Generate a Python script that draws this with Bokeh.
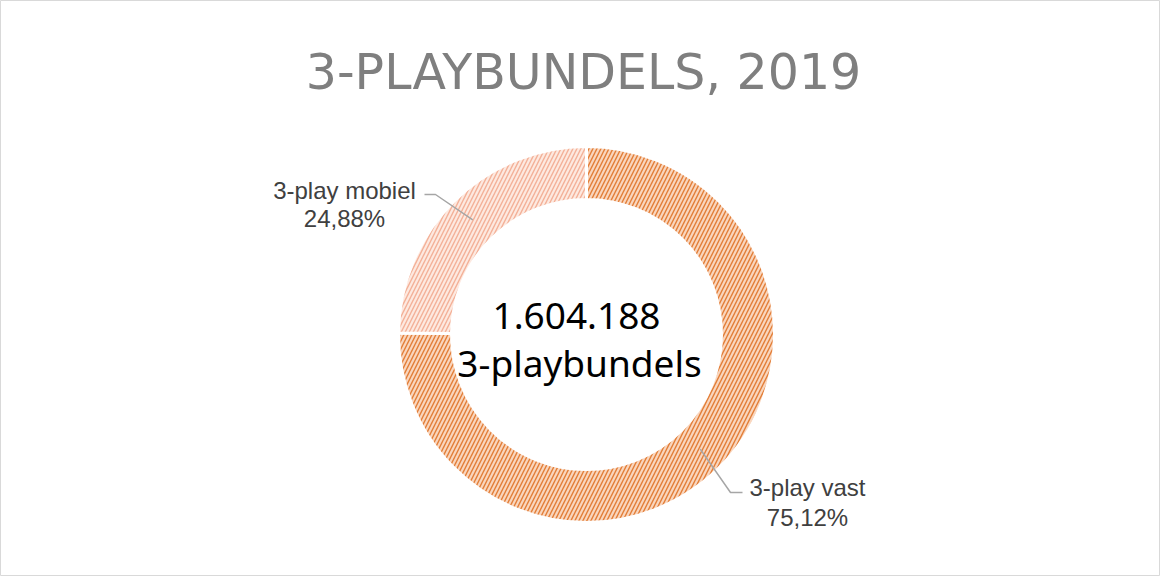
import math
from bokeh.plotting import figure
from bokeh.models import ColumnDataSource, Range1d, Label
from bokeh.core.properties import value
from bokeh.embed import file_html
from bokeh.resources import INLINE

# ---- data ----
title_text = "3-PLAYBUNDELS, 2019"
categories = ["3-play vast", "3-play mobiel"]
shares = [75.12, 24.88]
pct_labels = ["75,12%", "24,88%"]
total_label = "1.604.188"
total_caption = "3-playbundels"

fill_colors = ["#F9D6BE", "#FDE9E0"]
hatch_colors = ["#E27D36", "#F3B097"]

# ---- layout ----
W, H = 1160, 576
def px(x):
    return x - 8
def py(y):
    return 584 - y

cx, cy = px(594), py(342)
r_in, r_out = 135, 188

p = figure(width=W, height=H, output_backend="svg", toolbar_location=None,
           x_range=Range1d(0, W), y_range=Range1d(0, H), min_border=0,
           outline_line_color="#D9D9D9", outline_line_width=1)
p.axis.visible = False
p.grid.visible = False
p.background_fill_color = "white"
p.border_fill_color = "white"

# angles (clockwise from 12 o'clock)
total = sum(shares)
starts, ends, mids = [], [], []
acc = 0.0
for s in shares:
    a0 = math.pi / 2 - 2 * math.pi * acc / total
    a1 = math.pi / 2 - 2 * math.pi * (acc + s) / total
    starts.append(a0)
    ends.append(a1)
    mids.append((a0 + a1) / 2)
    acc += s

src = ColumnDataSource(dict(x=[cx] * 2, y=[cy] * 2, start=starts, end=ends,
                            fill=fill_colors, hatch=hatch_colors, cat=categories))
p.annular_wedge(x="x", y="y", inner_radius=r_in, outer_radius=r_out,
                start_angle="start", end_angle="end", direction="clock",
                fill_color="fill", hatch_color="hatch", hatch_pattern="/",
                hatch_scale=8, hatch_weight=1.4,
                line_color="white", line_width=3, source=src)

# leader lines
r_mid = (r_in + r_out) / 2
# vast (index 0)
ax0 = cx + r_mid * math.cos(mids[0]); ay0 = cy + r_mid * math.sin(mids[0])
p.line([ax0, px(738), px(750)], [ay0, py(500), py(500)], line_color="#A6A6A6", line_width=1.5)
# mobiel (index 1)
ax1 = cx + r_mid * math.cos(mids[1]); ay1 = cy + r_mid * math.sin(mids[1])
p.line([ax1, px(443), px(432)], [ay1, py(202), py(202)], line_color="#A6A6A6", line_width=1.5)

lab_font = value("Liberation Sans")
label_pos = [(px(815), py(495), py(525)), (px(352), py(198), py(226))]
for i, (lx, ly1, ly2) in enumerate(label_pos):
    p.text(x=[lx, lx], y=[ly1, ly2], text=[categories[i], pct_labels[i]],
           text_align="center", text_baseline="alphabetic",
           text_font=lab_font, text_font_size="24px", text_color="#404040")

# center text
p.text(x=[px(584), px(587)], y=[py(323), py(370)], text=[total_label, total_caption],
       text_align="center", text_baseline="alphabetic",
       text_font=value("Noto Sans"), text_font_size="37px", text_color="#000000")

# title
p.add_layout(Label(x=px(591), y=py(80), text=title_text, text_align="center",
                   text_baseline="alphabetic", text_font="DejaVu Sans",
                   text_font_size="49px", text_color="#7F7F7F"))

open("out.html", "w").write(file_html(p, INLINE))
